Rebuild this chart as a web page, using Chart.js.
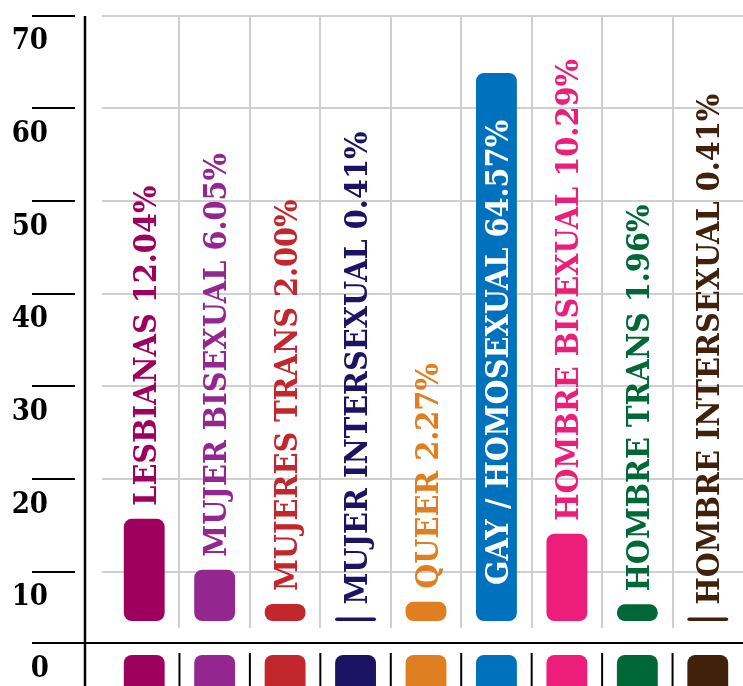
<!DOCTYPE html>
<html>
<head>
<meta charset="utf-8">
<script src="https://cdn.jsdelivr.net/npm/chart.js@4/dist/chart.umd.min.js"></script>
<style>
  html, body { margin: 0; padding: 0; background: #fff; }
  canvas { display: block; }
</style>
</head>
<body>
<canvas id="c" width="743" height="686"></canvas>
<script>
// Población por orientación / identidad (%)
const categories = [
  'LESBIANAS', 'MUJER BISEXUAL', 'MUJERES TRANS', 'MUJER INTERSEXUAL', 'QUEER',
  'GAY / HOMOSEXUAL', 'HOMBRE BISEXUAL', 'HOMBRE TRANS', 'HOMBRE INTERSEXUAL'
];
const percentages = [12.04, 6.05, 2.00, 0.41, 2.27, 64.57, 10.29, 1.96, 0.41];
const colors = ['#9e005d', '#93278f', '#c1272d', '#1b1464', '#df7f22',
                '#0071bc', '#ed1e79', '#006837', '#42210b'];
const yTickValues = [10, 20, 30, 40, 50, 60, 70];
const zeroLabel = '0';

const FONT = "'DejaVu Serif Condensed', 'DejaVu Serif', serif";

// Axis rules, tick dashes, the colour key row and the rotated labels
const decor = {
  id: 'decor',
  afterDatasetsDraw(chart) {
    const ctx = chart.ctx;
    const x = chart.scales.x;
    const y = chart.scales.y;
    const meta = chart.getDatasetMeta(0);
    ctx.save();

    // rotated labels above each bar (inside the bar when there is no room)
    ctx.font = 'bold 32px ' + FONT;
    ctx.textAlign = 'left';
    ctx.textBaseline = 'alphabetic';
    const capH = 23;
    meta.data.forEach((bar, i) => {
      const text = categories[i] + ' ' + percentages[i].toFixed(2) + '%';
      const w = ctx.measureText(text).width;
      let start = bar.y - 13;
      let color = colors[i];
      if (start - w < chart.chartArea.top) {
        start = bar.base - 36;
        color = '#ffffff';
      }
      ctx.save();
      ctx.translate(bar.x, start);
      ctx.rotate(-Math.PI / 2);
      ctx.fillStyle = color;
      ctx.fillText(text, 0, capH / 2);
      ctx.restore();
    });

    // black axis rules
    ctx.strokeStyle = '#000';
    ctx.lineWidth = 2.5;
    ctx.beginPath();
    ctx.moveTo(85, 16);
    ctx.lineTo(85, 686);
    ctx.stroke();
    ctx.lineWidth = 2;
    ctx.beginPath();
    ctx.moveTo(32, 643);
    ctx.lineTo(743, 643);
    ctx.stroke();

    // tick dashes left of the axis
    yTickValues.forEach(v => {
      const py = Math.round(y.getPixelForValue(v));
      ctx.beginPath();
      ctx.moveTo(32, py);
      ctx.lineTo(75, py);
      ctx.stroke();
    });

    // zero label under the base rule
    ctx.fillStyle = '#000';
    ctx.font = 'bold 29px ' + FONT;
    ctx.textAlign = 'right';
    ctx.textBaseline = 'middle';
    ctx.fillText(zeroLabel, 49, 669);

    // colour key row with separators
    const half = meta.data[0].width / 2;
    categories.forEach((c, i) => {
      const cx = x.getPixelForValue(i);
      ctx.fillStyle = colors[i];
      ctx.beginPath();
      ctx.roundRect(cx - half, 655, half * 2, 44, 8);
      ctx.fill();
      if (i > 0) {
        const sx = (x.getPixelForValue(i - 1) + cx) / 2;
        ctx.beginPath();
        ctx.moveTo(sx, 653);
        ctx.lineTo(sx, 686);
        ctx.stroke();
      }
    });
    ctx.restore();
  }
};

new Chart(document.getElementById('c'), {
  type: 'bar',
  data: {
    labels: categories,
    datasets: [{
      data: percentages,
      backgroundColor: colors,
      borderRadius: 8,
      borderSkipped: false,
      barPercentage: 0.58,
      categoryPercentage: 1,
      yAxisID: 'yb'
    }]
  },
  options: {
    responsive: false,
    animation: false,
    events: [],
    layout: { padding: { top: 15.7, left: 0, right: 0, bottom: 0 } },
    plugins: { legend: { display: false }, tooltip: { enabled: false } },
    scales: {
      x: {
        ticks: { display: false },
        grid: {
          offset: true,
          lineWidth: 2,
          drawTicks: false,
          color: c => (c.index >= 1 && c.index <= 8) ? '#cfcfcf' : 'rgba(0,0,0,0)'
        },
        border: { display: false },
        afterFit: s => { s.height = 58; }
      },
      y: {
        position: 'left',
        min: 3.92,
        max: 70,
        afterBuildTicks: s => { s.ticks = yTickValues.map(v => ({ value: v })); },
        afterFit: s => { s.width = 109; s.paddingTop = 0; s.paddingBottom = 0; },
        ticks: {
          color: '#000',
          font: { family: FONT, size: 29, weight: 'bold' },
          padding: 54,
          labelOffset: 26
        },
        grid: { color: '#cfcfcf', lineWidth: 2, tickLength: 7, tickColor: '#cfcfcf' },
        border: { display: false }
      },
      yb: {
        display: false,
        position: 'left',
        min: -0.825,
        max: 71.32
      }
    }
  },
  plugins: [decor]
});
</script>
</body>
</html>
